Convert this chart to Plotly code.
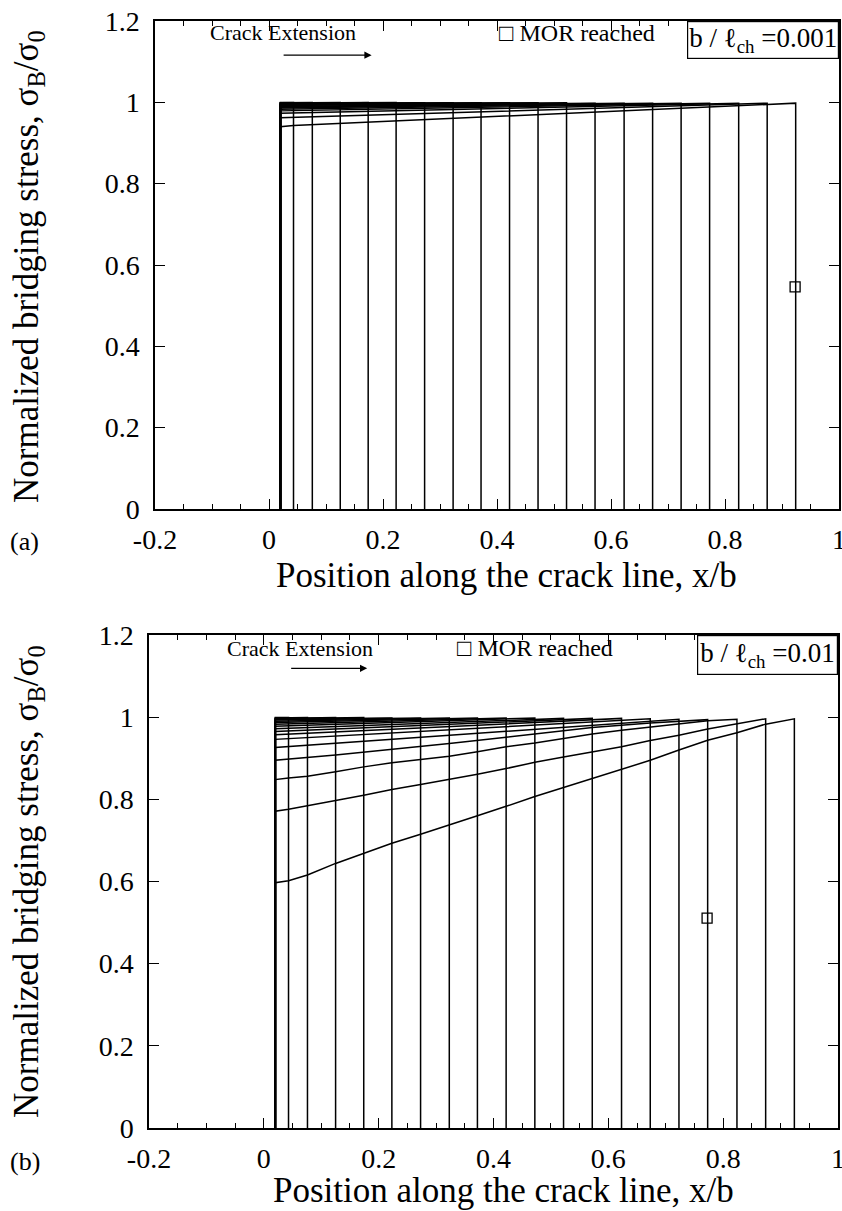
import plotly.graph_objects as go

# ---------------- data ----------------
tips = [0.043, 0.076, 0.125, 0.174, 0.223, 0.273, 0.323, 0.372, 0.422, 0.472,
        0.522, 0.572, 0.623, 0.673, 0.723, 0.773, 0.824, 0.874, 0.924]
nodes = [0.02] + tips

# panel (a): b/lch = 0.001  -- sample points (x, sigma) for each crack-tip position
a_x = [
    [0.02, 0.043], [0.02, 0.076], [0.02, 0.125], [0.02, 0.174], [0.02, 0.223],
    [0.02, 0.273], [0.02, 0.323], [0.02, 0.372], [0.02, 0.422], [0.02, 0.472],
    [0.02, 0.522], [0.02, 0.572], [0.02, 0.623], [0.02, 0.673], [0.02, 0.723],
    [0.02, 0.773], [0.02, 0.824], [0.02, 0.874],
    [0.02, 0.043, 0.125, 0.273, 0.472, 0.673, 0.824, 0.924],
]
a_s = [
    [0.9995, 0.9995], [0.999, 0.9995], [0.9985, 0.9995], [0.998, 0.9995], [0.9975, 0.9995],
    [0.997, 0.999], [0.996, 0.999], [0.995, 0.999], [0.994, 0.999], [0.993, 0.999],
    [0.992, 0.999], [0.990, 0.998], [0.988, 0.998], [0.986, 0.998], [0.983, 0.998],
    [0.979, 0.998], [0.973, 0.998], [0.962, 0.998],
    [0.940, 0.943, 0.948, 0.957, 0.970, 0.983, 0.992, 0.998],
]

# panel (b): b/lch = 0.01
b_x = [
    [0.02, 0.043], [0.02, 0.076], [0.02, 0.125], [0.02, 0.174], [0.02, 0.223],
    [0.02, 0.273], [0.02, 0.323], [0.02, 0.372], [0.02, 0.422], [0.02, 0.472],
    [0.02, 0.522], [0.02, 0.572], [0.02, 0.623], [0.02, 0.673], [0.02, 0.723],
    [0.02, 0.125, 0.223, 0.323, 0.422, 0.472, 0.572, 0.673, 0.773],
    nodes[:18],
    nodes[:19],
    nodes[:20],
]
b_s = [
    [0.999, 0.999], [0.998, 0.999], [0.997, 0.999], [0.996, 0.999], [0.995, 0.998],
    [0.993, 0.998], [0.990, 0.998], [0.987, 0.998], [0.983, 0.998], [0.978, 0.998],
    [0.972, 0.997], [0.965, 0.997], [0.957, 0.997], [0.946, 0.996], [0.926, 0.995],
    [0.895, 0.908, 0.921, 0.936, 0.951, 0.959, 0.975, 0.986, 0.994],
    [0.848, 0.852, 0.856, 0.867, 0.879, 0.889, 0.897, 0.905, 0.916, 0.928,
     0.937, 0.948, 0.959, 0.968, 0.976, 0.983, 0.991, 0.995],
    [0.771, 0.776, 0.784, 0.797, 0.810, 0.824, 0.836, 0.848, 0.861, 0.875,
     0.890, 0.903, 0.916, 0.928, 0.943, 0.956, 0.971, 0.983, 0.996],
    [0.597, 0.602, 0.616, 0.644, 0.668, 0.693, 0.715, 0.737, 0.760, 0.783,
     0.807, 0.829, 0.851, 0.873, 0.895, 0.920, 0.944, 0.962, 0.983, 0.996],
]

mor_a = (0.923, 0.546)
mor_b = (0.772, 0.511)

x_ticks = [-0.2, 0, 0.2, 0.4, 0.6, 0.8, 1]
x_tick_text = ["-0.2", "0", "0.2", "0.4", "0.6", "0.8", "1"]
y_ticks = [0, 0.2, 0.4, 0.6, 0.8, 1, 1.2]
y_tick_text = ["0", "0.2", "0.4", "0.6", "0.8", "1", "1.2"]

# ---------------- figure ----------------
W, H = 842, 1211
FONT = "Liberation Serif"
fig = go.Figure()


def add_profiles(xs_list, ss_list, xa, ya):
    for xs, ss in zip(xs_list, ss_list):
        xx = [xs[0]] + list(xs) + [xs[-1]]
        yy = [0] + list(ss) + [0]
        fig.add_trace(go.Scatter(x=xx, y=yy, mode="lines", xaxis=xa, yaxis=ya,
                                 line=dict(color="black", width=1.5),
                                 showlegend=False, hoverinfo="skip"))


add_profiles(a_x, a_s, "x", "y")
add_profiles(b_x, b_s, "x2", "y2")

for (mx, my), xa, ya in [(mor_a, "x", "y"), (mor_b, "x2", "y2")]:
    fig.add_trace(go.Scatter(x=[mx], y=[my], mode="markers", xaxis=xa, yaxis=ya,
                             marker=dict(symbol="square-open", size=10, color="black",
                                         line=dict(width=1.3)),
                             showlegend=False, hoverinfo="skip"))


def px_x(p):
    return p / W


def px_y(p):
    return 1 - p / H


TICK = 28
TITLE = 35
axis_common = dict(
    range=[-0.2, 1.0], showgrid=False, zeroline=False, showline=True, automargin=False,
    linecolor="black", linewidth=1.5, mirror="ticks", ticks="inside",
    ticklen=10, tickwidth=1.2, tickcolor="black",
    tickvals=x_ticks, ticktext=x_tick_text, ticklabeloverflow="allow",
    ticklabelstandoff=5,
    tickfont=dict(family=FONT, size=TICK, color="black"),
    minor=dict(dtick=0.05, tick0=0, ticks="inside", ticklen=5, tickwidth=1, tickcolor="black"),
)
yaxis_common = dict(
    range=[0, 1.2], showgrid=False, zeroline=False, showline=True, automargin=False,
    linecolor="black", linewidth=1.5, mirror="ticks", ticks="inside",
    ticklen=10, tickwidth=1.2, tickcolor="black",
    tickvals=y_ticks, ticktext=y_tick_text, ticklabeloverflow="allow",
    ticklabelstandoff=8,
    tickfont=dict(family=FONT, size=TICK, color="black"),
)

fig.update_layout(
    width=W, height=H, margin=dict(l=0, r=0, t=0, b=0),
    paper_bgcolor="white", plot_bgcolor="white",
    font=dict(family=FONT, color="black"),
    xaxis=dict(axis_common, domain=[px_x(155), px_x(839)], anchor="y"),
    yaxis=dict(yaxis_common, domain=[px_y(509), px_y(21)], anchor="x"),
    xaxis2=dict(axis_common, domain=[px_x(149), px_x(838)], anchor="y2"),
    yaxis2=dict(yaxis_common, domain=[px_y(1128), px_y(635)], anchor="x2"),
    showlegend=False,
)

ytitle = "Normalized bridging stress, σ<sub>B</sub>/σ<sub>0</sub>"
xtitle = "Position along the crack line, x/b"


def paper_text(x, y, text, size, **kw):
    d = dict(x=px_x(x), y=px_y(y), xref="paper", yref="paper", text=text,
             xanchor="center", yanchor="middle",
             showarrow=False, font=dict(family=FONT, size=size, color="black"))
    d.update(kw)
    return d


annotations = [
    # panel (a)
    paper_text(283, 33, "Crack Extension", 22),
    dict(x=0.18, y=1.116, ax=0.023, ay=1.116, xref="x", yref="y", axref="x", ayref="y",
         text="", showarrow=True, arrowhead=2, arrowsize=1.2, arrowwidth=1.2, arrowcolor="black"),
    paper_text(497, 33, "□ MOR reached", 24, xanchor="left"),
    paper_text(839, 21, "b / ℓ<sub>ch</sub> =0.001", 27, xanchor="right", yanchor="top",
               bordercolor="black", borderwidth=1.2, borderpad=1, bgcolor="white"),
    paper_text(8, 541, "(a)", 26, xanchor="left"),
    paper_text(506, 576, xtitle, TITLE),
    paper_text(28, 267, ytitle, TITLE, textangle=-90),
    # panel (b)
    paper_text(300, 648, "Crack Extension", 22),
    dict(x=0.18, y=1.119, ax=0.045, ay=1.119, xref="x2", yref="y2", axref="x2", ayref="y2",
         text="", showarrow=True, arrowhead=2, arrowsize=1.2, arrowwidth=1.2, arrowcolor="black"),
    paper_text(455, 648, "□ MOR reached", 24, xanchor="left"),
    paper_text(838, 635, "b / ℓ<sub>ch</sub> =0.01", 27, xanchor="right", yanchor="top",
               bordercolor="black", borderwidth=1.2, borderpad=2, bgcolor="white"),
    paper_text(8, 1161, "(b)", 26, xanchor="left"),
    paper_text(503, 1190, xtitle, TITLE),
    paper_text(28, 882, ytitle, TITLE, textangle=-90),
]
fig.update_layout(annotations=annotations)

fig.write_html("out.html")
